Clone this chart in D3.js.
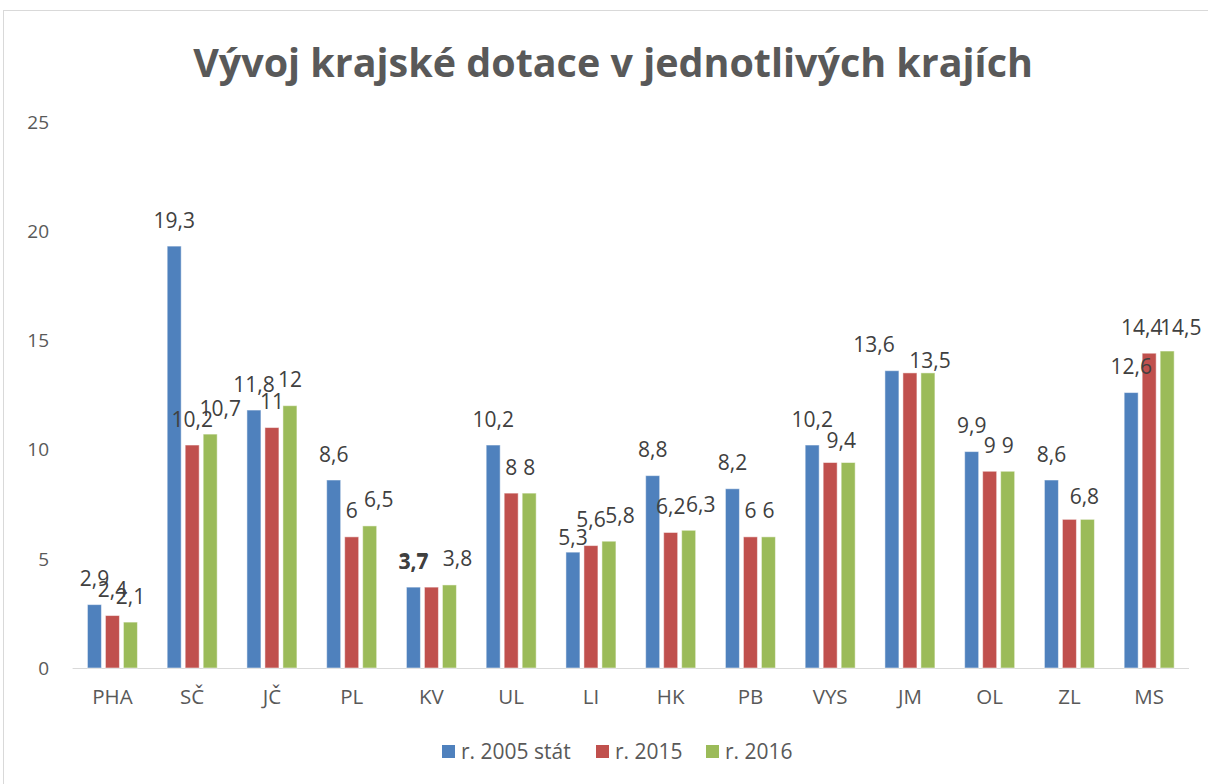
<!DOCTYPE html>
<html>
<head>
<meta charset="utf-8">
<script src="https://cdn.jsdelivr.net/npm/d3@7"></script>
<style>
  body { margin: 0; background: #fff; }
  svg text { font-family: "Open Sans", "Noto Sans", sans-serif; }
</style>
</head>
<body>
<div class="chart"></div>
<script>
// chart values
var regions = ["PHA", "SČ", "JČ", "PL", "KV", "UL", "LI", "HK", "PB", "VYS", "JM", "OL", "ZL", "MS"];
var seriesNames = ["r. 2005 stát", "r. 2015", "r. 2016"];
var values2005 = [2.9, 19.3, 11.8, 8.6, 3.7, 10.2, 5.3, 8.8, 8.2, 10.2, 13.6, 9.9, 8.6, 12.6];
var values2015 = [2.4, 10.2, 11, 6, 3.7, 8, 5.6, 6.2, 6, 9.4, 13.5, 9, 6.8, 14.4];
var values2016 = [2.1, 10.7, 12, 6.5, 3.8, 8, 5.8, 6.3, 6, 9.4, 13.5, 9, 6.8, 14.5];
var yTicks = [0, 5, 10, 15, 20, 25];
var colors = ["#4F81BD", "#C0504D", "#9BBB59"];

// data labels that were dragged by hand in the original (region-seriesIndex)
// dx/dy are nudges from the default spot, hide = label sits under its twin
var labelNudge = {
  "SČ-2": { dx: 10 },
  "PL-2": { dx: 9 },
  "KV-1": { dx: -18 },
  "KV-2": { dx: 8 },
  "LI-0": { dy: 11.5 },
  "LI-2": { dx: 11 },
  "HK-2": { dx: 12 },
  "VYS-1": { hide: true },
  "VYS-2": { dx: -7, dy: 3.5 },
  "JM-0": { dx: -18 },
  "JM-1": { hide: true },
  "JM-2": { dx: 2, dy: 13.5 },
  "ZL-1": { hide: true },
  "ZL-2": { dx: -3, dy: 3 },
  "MS-1": { dx: -7.5 },
  "MS-2": { dx: 13.5, dy: 2 }
};

var svgWidth = 1208;
var svgHeight = 784;

var svg = d3.select(".chart")
  .append("svg")
  .attr("width", svgWidth)
  .attr("height", svgHeight);

// chart frame (right and bottom edges run off the picture)
svg.append("rect")
  .attr("x", 3.5).attr("y", 10.5)
  .attr("width", 1220).attr("height", 800)
  .attr("fill", "#fff")
  .attr("stroke", "#d9d9d9")
  .attr("stroke-width", 1);

// title, squeezed to the width it has in the picture
var title = svg.append("text")
  .attr("x", 613)
  .attr("y", 77)
  .attr("text-anchor", "middle")
  .attr("font-size", 40)
  .attr("font-weight", "bold")
  .attr("fill", "#595959")
  .text("Vývoj krajské dotace v jednotlivých krajích");
var tw = title.node().getComputedTextLength();
title.attr("font-size", 40 * 840 / tw);

var table = regions.map(function(r, i) {
  return { region: r, vals: [values2005[i], values2015[i], values2016[i]] };
});

var x0 = d3.scaleBand()
  .domain(regions)
  .range([72.6, 1189])
  .paddingInner(0.373)
  .paddingOuter(0.186);

var x1 = d3.scaleBand()
  .domain(d3.range(seriesNames.length))
  .range([0, x0.bandwidth()])
  .paddingInner(0.222);

var y = d3.scaleLinear()
  .domain([0, 25])
  .range([668, 121.5]);

// y tick labels, no grid lines
svg.append("g")
  .selectAll("text")
  .data(yTicks)
  .enter()
  .append("text")
  .attr("x", 49)
  .attr("y", d => y(d) + 7)
  .attr("text-anchor", "end")
  .attr("font-size", 19)
  .attr("fill", "#595959")
  .text(d => d);

// baseline
svg.append("line")
  .attr("x1", 72.6).attr("x2", 1189)
  .attr("y1", y(0) + 0.5).attr("y2", y(0) + 0.5)
  .attr("stroke", "#d9d9d9")
  .attr("stroke-width", 1);

// category labels
svg.append("g")
  .selectAll("text")
  .data(regions)
  .enter()
  .append("text")
  .attr("x", d => x0(d) + x0.bandwidth() / 2)
  .attr("y", 704)
  .attr("text-anchor", "middle")
  .attr("font-size", 20.5)
  .attr("fill", "#595959")
  .text(d => d);

var groups = svg.append("g")
  .selectAll("g")
  .data(table)
  .enter()
  .append("g")
  .attr("transform", d => `translate(${x0(d.region)},0)`);

groups.selectAll("rect")
  .data(d => d.vals.map((v, k) => ({ k: k, v: v })))
  .enter()
  .append("rect")
  .attr("x", d => x1(d.k))
  .attr("y", d => y(d.v))
  .attr("width", x1.bandwidth())
  .attr("height", d => y(0) - y(d.v))
  .attr("fill", d => colors[d.k])
  .attr("stroke", "#fff")
  .attr("stroke-opacity", 0.5)
  .attr("stroke-width", 1);

// data labels with decimal comma
groups.selectAll("text")
  .data(d => d.vals
    .map((v, k) => ({ k: k, v: v, n: labelNudge[d.region + "-" + k] || {} }))
    .filter(l => !l.n.hide))
  .enter()
  .append("text")
  .attr("x", d => x1(d.k) + x1.bandwidth() / 2 + (d.n.dx || 0))
  .attr("y", d => y(d.v) - 18.5 + (d.n.dy || 0))
  .attr("text-anchor", "middle")
  .attr("font-size", 21)
  .attr("fill", "#404040")
  .text(d => String(d.v).replace(".", ","));

// KV: the two 3,7 labels sit on top of each other, which reads as bold
groups.filter(d => d.region === "KV")
  .select("text")
  .attr("font-weight", "bold");

// legend
var legendX = [442, 596, 706];
var legend = svg.append("g")
  .selectAll("g")
  .data(seriesNames)
  .enter()
  .append("g")
  .attr("transform", (d, i) => `translate(${legendX[i]},745)`);

legend.append("rect")
  .attr("width", 13).attr("height", 13)
  .attr("fill", (d, i) => colors[i]);

legend.append("text")
  .attr("x", 19)
  .attr("y", 14)
  .attr("font-size", 21)
  .attr("fill", "#595959")
  .text(d => d);
</script>
</body>
</html>
